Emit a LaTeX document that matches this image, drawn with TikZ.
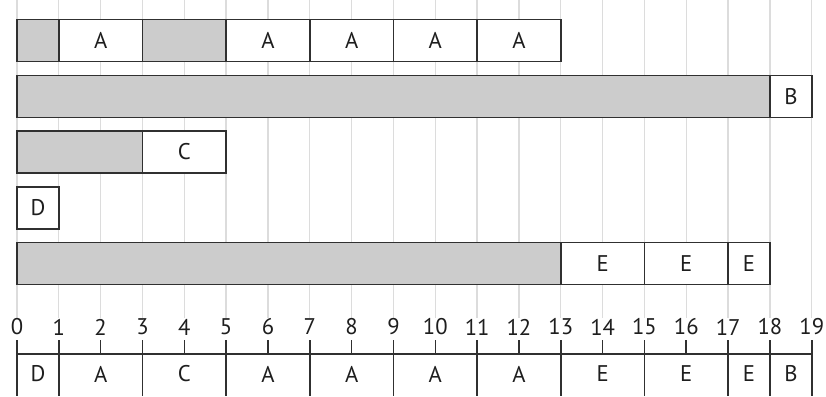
\documentclass[tikz,border=0pt]{standalone}
\usepackage{fontspec}
\setmainfont{PT Sans}
\definecolor{gridc}{HTML}{DCDCDC}
\definecolor{boxc}{HTML}{303030}
\definecolor{fillc}{HTML}{CCCCCC}
\definecolor{txtc}{HTML}{1E1E1E}
\begin{document}
\begin{tikzpicture}[x=31.37pt,y=-0.75pt,
  lbl/.style={font=\fontsize{17}{19}\selectfont},
  gridline/.style={draw=gridc, line width=1pt},
  cellbox/.style={draw=boxc, line width=1.2pt, rectangle, inner sep=0pt,
    minimum height=31.5pt, text=txtc, lbl},
  idle/.style={cellbox, fill=fillc},
  busy/.style={cellbox, fill=white},
  w1/.style={minimum width=31.37pt},
  w2/.style={minimum width=62.74pt},
  w3/.style={minimum width=94.11pt},
  w13/.style={minimum width=407.81pt},
  w18/.style={minimum width=564.66pt},
  numlab/.style={text=txtc, inner sep=0pt, lbl},
  slot/.style={rectangle, inner sep=0pt, minimum height=31.5pt, text=txtc, lbl},
  ruler/.style={draw=boxc, line width=1.2pt}]
\useasboundingbox (-0.4064,0) rectangle (19.340,396);
% grid
\foreach \i in {0,...,19} {
  \coordinate (gt\i) at (\i,0);
  \coordinate (gb\i) at (\i,318);
  \draw[gridline] (gt\i) -- (gb\i);
}
% row 1
\node[idle,w1] (r1g1) at (0.5,40.4) {};
\node[busy,w2] (r1a1) at (2,40.4) {A};
\node[idle,w2] (r1g2) at (4,40.4) {};
\node[busy,w2] (r1a2) at (6,40.4) {A};
\node[busy,w2] (r1a3) at (8,40.4) {A};
\node[busy,w2] (r1a4) at (10,40.4) {A};
\node[busy,w2] (r1a5) at (12,40.4) {A};
% row 2
\node[idle,w18] (r2g) at (9,96.5) {};
\node[busy,w1] (r2b) at (18.5,96.5) {B};
% row 3
\node[idle,w3] (r3g) at (1.5,152) {};
\node[busy,w2] (r3c) at (4,152) {C};
% row 4
\node[busy,w1] (r4d) at (0.5,208) {D};
% row 5
\node[idle,w13] (r5g) at (6.5,263.6) {};
\node[busy,w2] (r5e1) at (14,263.6) {E};
\node[busy,w2] (r5e2) at (16,263.6) {E};
\node[busy,w1] (r5e3) at (17.5,263.6) {E};
% numbers
\foreach \i in {0,...,19} {
  \node[numlab] (n\i) at (\i,327) {\i};
}
% ruler
\coordinate (rl) at (0,354);
\coordinate (rr) at (19,354);
\draw[ruler] (rl) -- (rr);
\foreach \i in {0,1,3,5,7,9,11,13,15,17,18,19} {
  \coordinate (bt\i) at (\i,340);
  \coordinate (bb\i) at (\i,396);
  \draw[ruler] (bt\i) -- (bb\i);
}
\foreach \i in {2,4,...,16} {
  \coordinate (tt\i) at (\i,340);
  \coordinate (tb\i) at (\i,354);
  \draw[ruler] (tt\i) -- (tb\i);
}
% ruler slots
\node[slot] (s1) at (0.5,374) {D};
\node[slot] (s2) at (2,374) {A};
\node[slot] (s3) at (4,374) {C};
\node[slot] (s4) at (6,374) {A};
\node[slot] (s5) at (8,374) {A};
\node[slot] (s6) at (10,374) {A};
\node[slot] (s7) at (12,374) {A};
\node[slot] (s8) at (14,374) {E};
\node[slot] (s9) at (16,374) {E};
\node[slot] (s10) at (17.5,374) {E};
\node[slot] (s11) at (18.5,374) {B};
\end{tikzpicture}
\end{document}
